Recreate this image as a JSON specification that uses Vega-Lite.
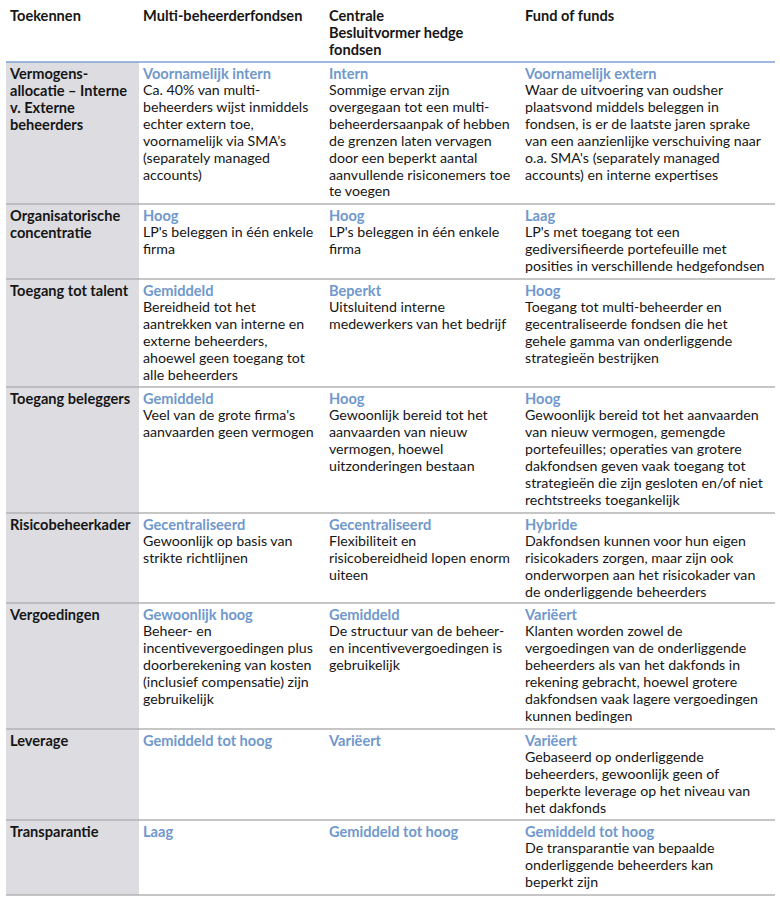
{
  "$schema": "https://vega.github.io/schema/vega-lite/v6.json",
  "width": 780,
  "height": 900,
  "padding": 0,
  "autosize": {"type": "none"},
  "background": "white",
  "config": {
    "view": {"stroke": null},
    "text": {"font": "Lato", "fontSize": 14.2, "lineHeight": 16.9, "baseline": "top", "align": "left", "color": "#161616"}
  },
  "datasets": {
    "columns": [
      {"ci": 0, "label": ["Toekennen"]},
      {"ci": 1, "label": ["Multi-beheerderfondsen"]},
      {"ci": 2, "label": ["Centrale", "Besluitvormer hedge", "fondsen"]},
      {"ci": 3, "label": ["Fund of funds"]}
    ],
    "rows": [
      {"ri": 1, "label": ["Vermogens-", "allocatie – Interne", "v. Externe", "beheerders"]},
      {"ri": 2, "label": ["Organisatorische", "concentratie"]},
      {"ri": 3, "label": ["Toegang tot talent"]},
      {"ri": 4, "label": ["Toegang beleggers"]},
      {"ri": 5, "label": ["Risicobeheerkader"]},
      {"ri": 6, "label": ["Vergoedingen"]},
      {"ri": 7, "label": ["Leverage"]},
      {"ri": 8, "label": ["Transparantie"]}
    ],
    "cells": [
      {"ri": 1, "ci": 1, "head": "Voornamelijk intern", "body": ["Ca. 40% van multi-", "beheerders wijst inmiddels", "echter extern toe,", "voornamelijk via SMA’s", "(separately managed", "accounts)"]},
      {"ri": 1, "ci": 2, "head": "Intern", "body": ["Sommige ervan zijn", "overgegaan tot een multi-", "beheerdersaanpak of hebben", "de grenzen laten vervagen", "door een beperkt aantal", "aanvullende risiconemers toe", "te voegen"]},
      {"ri": 1, "ci": 3, "head": "Voornamelijk extern", "body": ["Waar de uitvoering van oudsher", "plaatsvond middels beleggen in", "fondsen, is er de laatste jaren sprake", "van een aanzienlijke verschuiving naar", "o.a. SMA's (separately managed", "accounts) en interne expertises"]},
      {"ri": 2, "ci": 1, "head": "Hoog", "body": ["LP's beleggen in één enkele", "firma"]},
      {"ri": 2, "ci": 2, "head": "Hoog", "body": ["LP's beleggen in één enkele", "firma"]},
      {"ri": 2, "ci": 3, "head": "Laag", "body": ["LP's met toegang tot een", "gediversifieerde portefeuille met", "posities in verschillende hedgefondsen"]},
      {"ri": 3, "ci": 1, "head": "Gemiddeld", "body": ["Bereidheid tot het", "aantrekken van interne en", "externe beheerders,", "ahoewel geen toegang tot", "alle beheerders"]},
      {"ri": 3, "ci": 2, "head": "Beperkt", "body": ["Uitsluitend interne", "medewerkers van het bedrijf"]},
      {"ri": 3, "ci": 3, "head": "Hoog", "body": ["Toegang tot multi-beheerder en", "gecentraliseerde fondsen die het", "gehele gamma van onderliggende", "strategieën bestrijken"]},
      {"ri": 4, "ci": 1, "head": "Gemiddeld", "body": ["Veel van de grote firma's", "aanvaarden geen vermogen"]},
      {"ri": 4, "ci": 2, "head": "Hoog", "body": ["Gewoonlijk bereid tot het", "aanvaarden van nieuw", "vermogen, hoewel", "uitzonderingen bestaan"]},
      {"ri": 4, "ci": 3, "head": "Hoog", "body": ["Gewoonlijk bereid tot het aanvaarden", "van nieuw vermogen, gemengde", "portefeuilles; operaties van grotere", "dakfondsen  geven vaak toegang tot", "strategieën die zijn gesloten en/of niet", "rechtstreeks toegankelijk"]},
      {"ri": 5, "ci": 1, "head": "Gecentraliseerd", "body": ["Gewoonlijk op basis van", "strikte richtlijnen"]},
      {"ri": 5, "ci": 2, "head": "Gecentraliseerd", "body": ["Flexibiliteit en", "risicobereidheid lopen enorm", "uiteen"]},
      {"ri": 5, "ci": 3, "head": "Hybride", "body": ["Dakfondsen kunnen voor hun eigen", "risicokaders zorgen, maar zijn ook", "onderworpen aan het risicokader van", "de onderliggende beheerders"]},
      {"ri": 6, "ci": 1, "head": "Gewoonlijk hoog", "body": ["Beheer- en", "incentivevergoedingen plus", "doorberekening van kosten", "(inclusief compensatie) zijn", "gebruikelijk"]},
      {"ri": 6, "ci": 2, "head": "Gemiddeld", "body": ["De structuur van de beheer-", "en incentivevergoedingen is", "gebruikelijk"]},
      {"ri": 6, "ci": 3, "head": "Variëert", "body": ["Klanten worden zowel de", "vergoedingen van de onderliggende", "beheerders als van het dakfonds in", "rekening gebracht, hoewel grotere", "dakfondsen vaak lagere vergoedingen", "kunnen bedingen"]},
      {"ri": 7, "ci": 1, "head": "Gemiddeld tot hoog", "body": [""]},
      {"ri": 7, "ci": 2, "head": "Variëert", "body": [""]},
      {"ri": 7, "ci": 3, "head": "Variëert", "body": ["Gebaseerd op onderliggende", "beheerders, gewoonlijk geen of", "beperkte leverage op het niveau van", "het dakfonds"]},
      {"ri": 8, "ci": 1, "head": "Laag", "body": [""]},
      {"ri": 8, "ci": 2, "head": "Gemiddeld tot hoog", "body": [""]},
      {"ri": 8, "ci": 3, "head": "Gemiddeld tot hoog", "body": ["De transparantie van bepaalde", "onderliggende beheerders kan", "beperkt zijn"]}
    ]
  },
  "layer": [
    {
      "data": {"values": [{"part": "kolom"}]},
      "mark": {"type": "rect", "color": "#dcdce1", "xOffset": -4, "x2Offset": -4, "yOffset": -5, "y2Offset": -5},
      "encoding": {
        "x": {"datum": 0, "type": "quantitative", "scale": {"domain": [0, 1, 2, 3, 4], "range": [10, 143, 329, 525, 779], "nice": false, "zero": false}, "axis": null},
        "x2": {"datum": 1},
        "y": {"datum": 1, "type": "quantitative", "scale": {"domain": [0, 1, 2, 3, 4, 5, 6, 7, 8, 9], "range": [9, 67, 209, 284, 392, 518, 608, 734, 825, 900], "nice": false, "zero": false}, "axis": null},
        "y2": {"datum": 9}
      }
    },
    {
      "data": {"name": "rows"},
      "transform": [{"filter": "datum.ri >= 2"}],
      "mark": {"type": "rule", "color": "#b3b3b3", "strokeWidth": 1.5, "xOffset": -4, "x2Offset": -4, "yOffset": -5},
      "encoding": {
        "x": {"datum": 0, "type": "quantitative"},
        "x2": {"datum": 4},
        "y": {"field": "ri", "type": "quantitative"}
      }
    },
    {
      "data": {"values": [{"part": "onderrand"}]},
      "mark": {"type": "rule", "color": "#b3b3b3", "strokeWidth": 1.5, "xOffset": -4, "x2Offset": -4, "yOffset": -5},
      "encoding": {
        "x": {"datum": 0, "type": "quantitative"},
        "x2": {"datum": 4},
        "y": {"datum": 9, "type": "quantitative"}
      }
    },
    {
      "data": {"values": [{"part": "kopregel"}]},
      "mark": {"type": "rule", "color": "#7ea3d4", "strokeWidth": 1.5, "xOffset": -4, "x2Offset": -4, "yOffset": -5},
      "encoding": {
        "x": {"datum": 0, "type": "quantitative"},
        "x2": {"datum": 4},
        "y": {"datum": 1, "type": "quantitative"}
      }
    },
    {
      "data": {"name": "columns"},
      "mark": {"type": "text", "fontWeight": "bold", "fontSize": 14.6},
      "encoding": {
        "x": {"field": "ci", "type": "quantitative"},
        "y": {"datum": 0, "type": "quantitative"},
        "text": {"field": "label"}
      }
    },
    {
      "data": {"name": "rows"},
      "mark": {"type": "text", "fontWeight": "bold", "fontSize": 14.6},
      "encoding": {
        "x": {"datum": 0, "type": "quantitative"},
        "y": {"field": "ri", "type": "quantitative"},
        "text": {"field": "label"}
      }
    },
    {
      "data": {"name": "cells"},
      "mark": {"type": "text", "fontWeight": "bold", "fontSize": 14.6, "color": "#7098cd"},
      "encoding": {
        "x": {"field": "ci", "type": "quantitative"},
        "y": {"field": "ri", "type": "quantitative"},
        "text": {"field": "head"}
      }
    },
    {
      "data": {"name": "cells"},
      "mark": {"type": "text", "dy": 17},
      "encoding": {
        "x": {"field": "ci", "type": "quantitative"},
        "y": {"field": "ri", "type": "quantitative"},
        "text": {"field": "body"}
      }
    }
  ]
}
